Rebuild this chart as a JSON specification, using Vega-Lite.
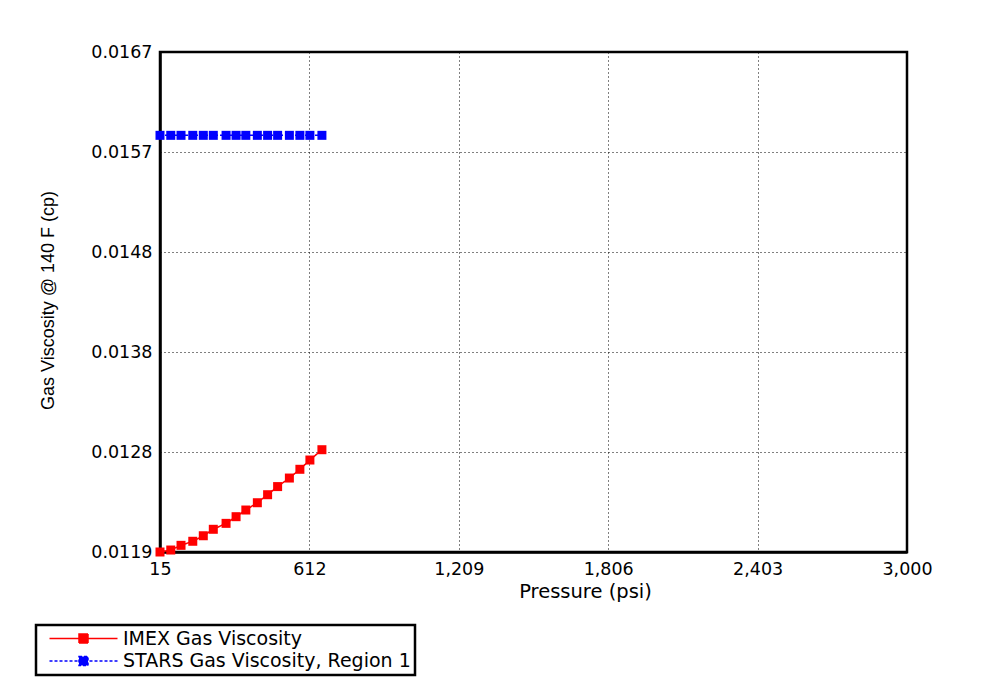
{
  "$schema": "https://vega.github.io/schema/vega-lite/v6.json",
  "autosize": "none",
  "width": 747,
  "height": 500,
  "padding": {"left": 160, "top": 52, "right": 74, "bottom": 146},
  "background": "white",
  "data": {
    "values": [
      {"series": "IMEX Gas Viscosity", "pressure": 15, "visc": 0.01190},
      {"series": "IMEX Gas Viscosity", "pressure": 58, "visc": 0.011919},
      {"series": "IMEX Gas Viscosity", "pressure": 99, "visc": 0.011964},
      {"series": "IMEX Gas Viscosity", "pressure": 146, "visc": 0.012003},
      {"series": "IMEX Gas Viscosity", "pressure": 188, "visc": 0.012056},
      {"series": "IMEX Gas Viscosity", "pressure": 228, "visc": 0.012118},
      {"series": "IMEX Gas Viscosity", "pressure": 279, "visc": 0.012175},
      {"series": "IMEX Gas Viscosity", "pressure": 319, "visc": 0.012239},
      {"series": "IMEX Gas Viscosity", "pressure": 358, "visc": 0.012303},
      {"series": "IMEX Gas Viscosity", "pressure": 404, "visc": 0.012373},
      {"series": "IMEX Gas Viscosity", "pressure": 445, "visc": 0.012450},
      {"series": "IMEX Gas Viscosity", "pressure": 485, "visc": 0.012528},
      {"series": "IMEX Gas Viscosity", "pressure": 532, "visc": 0.012610},
      {"series": "IMEX Gas Viscosity", "pressure": 574, "visc": 0.012694},
      {"series": "IMEX Gas Viscosity", "pressure": 614, "visc": 0.012783},
      {"series": "IMEX Gas Viscosity", "pressure": 662, "visc": 0.012882},
      {"series": "STARS Gas Viscosity, Region 1", "pressure": 15, "visc": 0.0159},
      {"series": "STARS Gas Viscosity, Region 1", "pressure": 58, "visc": 0.0159},
      {"series": "STARS Gas Viscosity, Region 1", "pressure": 99, "visc": 0.0159},
      {"series": "STARS Gas Viscosity, Region 1", "pressure": 146, "visc": 0.0159},
      {"series": "STARS Gas Viscosity, Region 1", "pressure": 188, "visc": 0.0159},
      {"series": "STARS Gas Viscosity, Region 1", "pressure": 228, "visc": 0.0159},
      {"series": "STARS Gas Viscosity, Region 1", "pressure": 279, "visc": 0.0159},
      {"series": "STARS Gas Viscosity, Region 1", "pressure": 319, "visc": 0.0159},
      {"series": "STARS Gas Viscosity, Region 1", "pressure": 358, "visc": 0.0159},
      {"series": "STARS Gas Viscosity, Region 1", "pressure": 404, "visc": 0.0159},
      {"series": "STARS Gas Viscosity, Region 1", "pressure": 445, "visc": 0.0159},
      {"series": "STARS Gas Viscosity, Region 1", "pressure": 485, "visc": 0.0159},
      {"series": "STARS Gas Viscosity, Region 1", "pressure": 532, "visc": 0.0159},
      {"series": "STARS Gas Viscosity, Region 1", "pressure": 574, "visc": 0.0159},
      {"series": "STARS Gas Viscosity, Region 1", "pressure": 614, "visc": 0.0159},
      {"series": "STARS Gas Viscosity, Region 1", "pressure": 662, "visc": 0.0159}
    ]
  },
  "encoding": {
    "x": {
      "field": "pressure",
      "type": "quantitative",
      "scale": {"domain": [15, 3000], "nice": false, "zero": false},
      "axis": {
        "title": "Pressure (psi)",
        "values": [15, 612, 1209, 1806, 2403, 3000],
        "format": ",d",
        "ticks": false,
        "labelPadding": 8,
        "labelFont": "DejaVu Sans",
        "labelFontSize": 17.5,
        "labelColor": "black",
        "labelFlush": false,
        "titleFont": "DejaVu Sans",
        "titleFontSize": 19.5,
        "titleFontWeight": "normal",
        "titleColor": "black",
        "titleX": 425,
        "titleY": 45,
        "titleAlign": "center",
        "titleBaseline": "alphabetic",
        "domainColor": "black",
        "domainWidth": 2.5,
        "grid": true,
        "gridColor": "black",
        "gridDash": [1, 3],
        "gridWidth": 1,
        "gridOpacity": 1
      }
    },
    "y": {
      "field": "visc",
      "type": "quantitative",
      "scale": {"domain": [0.0119, 0.0167], "nice": false, "zero": false},
      "axis": {
        "title": "Gas Viscosity @ 140 F (cp)",
        "values": [0.0119, 0.01286, 0.01382, 0.01478, 0.01574, 0.0167],
        "labelExpr": "['0.0119','0.0128','0.0138','0.0148','0.0157','0.0167'][round(datum.index*5)]",
        "ticks": false,
        "labelPadding": 8,
        "labelFont": "DejaVu Sans",
        "labelFontSize": 17.5,
        "labelColor": "black",
        "labelFlush": false,
        "titleFont": "Liberation Sans",
        "titleFontSize": 18,
        "titleFontWeight": "normal",
        "titleColor": "black",
        "titleAngle": 270,
        "titleX": -112,
        "titleY": 248,
        "titleAlign": "center",
        "titleBaseline": "middle",
        "domainColor": "black",
        "domainWidth": 2.5,
        "grid": true,
        "gridColor": "black",
        "gridDash": [1, 3],
        "gridWidth": 1,
        "gridOpacity": 1
      }
    },
    "color": {
      "field": "series",
      "type": "nominal",
      "scale": {"domain": ["IMEX Gas Viscosity", "STARS Gas Viscosity, Region 1"], "range": ["#ff0000", "#0000ff"]},
      "legend": {
        "title": null,
        "orient": "none",
        "legendX": -124,
        "legendY": 573,
        "direction": "vertical",
        "strokeColor": "black",
        "fillColor": "white",
        "padding": 4,
        "rowPadding": 2.5,
        "labelFont": "DejaVu Sans",
        "labelFontSize": 19,
        "labelColor": "black",
        "labelOffset": 0,
        "labelLimit": 400,
        "symbolOffset": 64,
        "symbolType": "M-32,0H2M-17.25,-2.25H-12.75V2.25H-17.25Z",
        "symbolSize": 16,
        "symbolStrokeWidth": 1.5,
        "symbolOpacity": 1,
        "encode": {
          "legend": {"update": {"strokeWidth": {"value": 2.5}}},
          "symbols": {"update": {"fill": {"scale": "color", "field": "value"}, "fillOpacity": {"value": 1}}}
        }
      }
    }
  },
  "layer": [
    {
      "mark": {"type": "line", "strokeWidth": 1.5},
      "encoding": {
        "strokeDash": {
          "field": "series",
          "type": "nominal",
          "scale": {"domain": ["IMEX Gas Viscosity", "STARS Gas Viscosity, Region 1"], "range": [[1, 0], [3, 2]]},
          "legend": {
            "title": null,
            "orient": "none",
            "legendX": -124,
            "legendY": 573,
            "direction": "vertical",
            "strokeColor": "black",
            "fillColor": "white",
            "padding": 4,
            "rowPadding": 2.5,
            "labelFont": "DejaVu Sans",
            "labelFontSize": 19,
            "labelColor": "black",
            "labelOffset": 0,
            "labelLimit": 400,
            "symbolOffset": 64,
            "symbolType": "M-32,0H2M-17.25,-2.25H-12.75V2.25H-17.25Z",
            "symbolSize": 16,
            "symbolStrokeWidth": 1.5,
            "symbolOpacity": 1
          }
        }
      }
    },
    {
      "mark": {"type": "point", "shape": "square", "filled": true, "size": 81, "opacity": 1}
    }
  ],
  "config": {
    "view": {"stroke": "black", "strokeWidth": 2.5}
  }
}
